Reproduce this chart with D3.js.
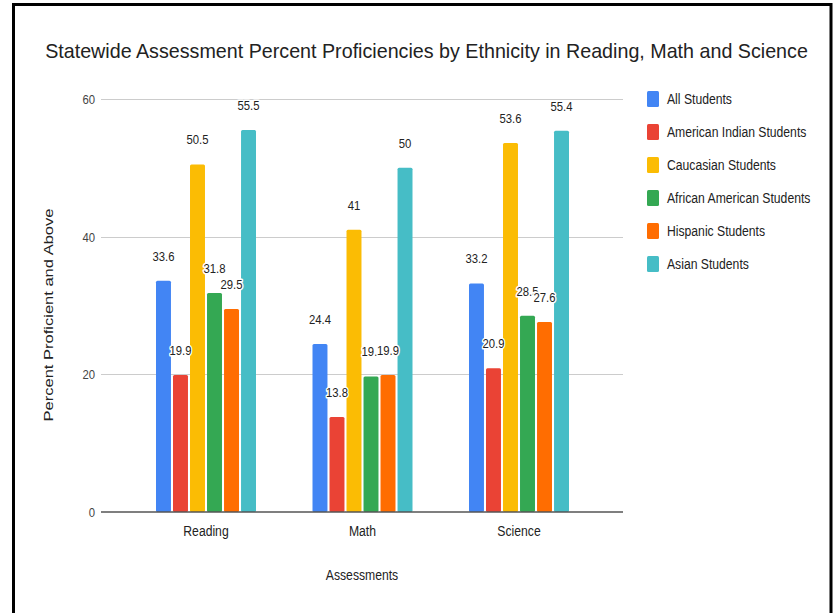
<!DOCTYPE html>
<html><head><meta charset="utf-8">
<script src="https://cdn.jsdelivr.net/npm/d3@7"></script>
<style>body{margin:0;background:#fff} svg{display:block} text{font-family:"Liberation Sans",Arial,sans-serif}</style>
</head><body><svg id="c" width="833" height="613"></svg>
<script>
const categories = ["Reading", "Math", "Science"];
const seriesNames = ["All Students", "American Indian Students", "Caucasian Students", "African American Students", "Hispanic Students", "Asian Students"];
const allStudents = [33.6, 24.4, 33.2];
const americanIndian = [19.9, 13.8, 20.9];
const caucasian = [50.5, 41, 53.6];
const africanAmerican = [31.8, 19.7, 28.5];
const hispanic = [29.5, 19.9, 27.6];
const asian = [55.5, 50, 55.4];
const colors = ["#4285F4", "#EA4335", "#FBBC04", "#34A853", "#FF6D01", "#46BDC6"];
const yTicks = [0, 20, 40, 60];
const labelOverrides = {"Math|African American Students": "19.."};

const seriesValues = [allStudents, americanIndian, caucasian, africanAmerican, hispanic, asian];
const data = [];
categories.forEach((c, ci) => seriesNames.forEach((s, si) => data.push({cat: c, series: s, si, value: seriesValues[si][ci]})));

const SX = 0.87;
const svg = d3.select("#c");
svg.append("rect").attr("width", 833).attr("height", 613).attr("fill", "#fff");

const y = d3.scaleLinear().domain([0, 60]).range([512, 99]);
const x0 = d3.scaleBand().domain(categories).range([127.75, 597.25]).paddingInner(0.361).paddingOuter(0.1805);
const x1 = d3.scaleBand().domain(seriesNames).range([0, x0.bandwidth()]).paddingInner(0.12).paddingOuter(0);
const gridX = [101, 623];

// gridlines
svg.append("g").selectAll("line").data(yTicks.filter(t => t !== 0)).join("line")
  .attr("x1", gridX[0]).attr("x2", gridX[1])
  .attr("y1", d => Math.round(y(d)) + 0.5).attr("y2", d => Math.round(y(d)) + 0.5)
  .attr("stroke", "#cccccc").attr("stroke-width", 1);

// y tick labels
svg.append("g").selectAll("text").data(yTicks).join("text")
  .attr("transform", d => `translate(95,${y(d) + 5}) scale(${SX},1)`)
  .attr("text-anchor", "end").attr("font-size", 13).attr("fill", "#444")
  .text(d => d);

// bars
svg.append("g").selectAll("rect").data(data).join("rect")
  .attr("x", d => x0(d.cat) + x1(d.series))
  .attr("width", x1.bandwidth())
  .attr("y", d => y(d.value))
  .attr("height", d => y(0) - y(d.value))
  .attr("rx", 1.5)
  .attr("fill", d => colors[d.si]);

// baseline
svg.append("line").attr("x1", gridX[0]).attr("x2", gridX[1])
  .attr("y1", y(0)).attr("y2", y(0)).attr("stroke", "#555").attr("stroke-width", 1.5);

// value labels
svg.append("g").selectAll("text").data(data).join("text")
  .attr("transform", d => `translate(${x0(d.cat) + x1(d.series) + x1.bandwidth() / 2},${y(d.value) - 20}) scale(${SX},1)`)
  .attr("text-anchor", "middle").attr("font-size", 13).attr("fill", "#222")
  .attr("stroke", "#fff").attr("stroke-width", 3).attr("paint-order", "stroke").attr("stroke-linejoin", "round")
  .text(d => labelOverrides[d.cat + "|" + d.series] || String(d.value));

// category labels
svg.append("g").selectAll("text").data(categories).join("text")
  .attr("transform", d => `translate(${x0(d) + x0.bandwidth() / 2},536) scale(${SX},1)`)
  .attr("text-anchor", "middle").attr("font-size", 14).attr("fill", "#222")
  .text(d => d);

// axis titles
svg.append("text").attr("transform", `translate(362,580) scale(${SX},1)`)
  .attr("text-anchor", "middle").attr("font-size", 14).attr("fill", "#222").text("Assessments");
svg.append("text").attr("transform", `translate(53,315) rotate(-90) scale(1.18,${SX})`)
  .attr("text-anchor", "middle").attr("font-size", 14).attr("fill", "#222").text("Percent Proficient and Above");

// title
const title = svg.append("text").attr("font-size", 20.5).attr("fill", "#222")
  .attr("text-anchor", "middle")
  .text("Statewide Assessment Percent Proficiencies by Ethnicity in Reading, Math and Science");
const tw = title.node().getComputedTextLength();
title.attr("transform", `translate(426.5,58) scale(${763 / tw},1)`);

// legend
const lg = svg.append("g").selectAll("g").data(seriesNames).join("g")
  .attr("transform", (d, i) => `translate(647,${99 + i * 33})`);
lg.append("rect").attr("x", 0).attr("y", -8).attr("width", 12).attr("height", 16).attr("rx", 1.5)
  .attr("fill", (d, i) => colors[i]);
lg.append("text").attr("transform", `translate(20,5) scale(${SX},1)`)
  .attr("font-size", 14).attr("fill", "#222").text(d => d);

// frame
svg.append("rect").attr("x", 13.5).attr("y", 4.5).attr("width", 817.5).attr("height", 700)
  .attr("fill", "none").attr("stroke", "#000").attr("stroke-width", 3);
</script></body></html>
